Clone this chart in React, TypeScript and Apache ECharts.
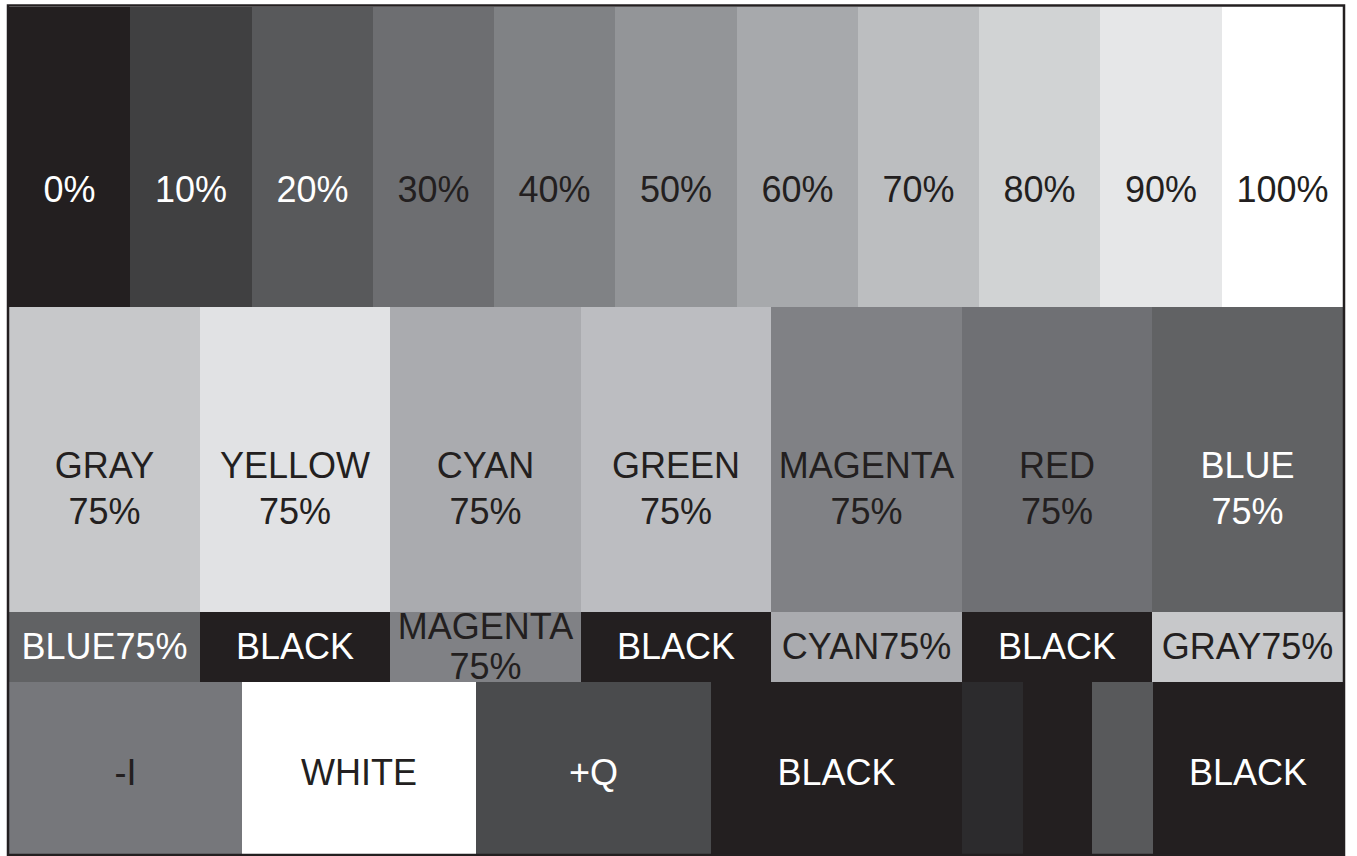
import React, { useEffect, useRef } from "react";
import * as echarts from "echarts";

// Row 1: gray scale
const grayLabels = ["0%", "10%", "20%", "30%", "40%", "50%", "60%", "70%", "80%", "90%", "100%"];
const grayColors = ["#231f20", "#404041", "#58595b", "#6d6e71", "#808285", "#939598", "#a7a9ac", "#bcbec0", "#d1d3d4", "#e6e7e8", "#ffffff"];
const grayTextColors = ["#ffffff", "#ffffff", "#ffffff", "#231f20", "#231f20", "#231f20", "#231f20", "#231f20", "#231f20", "#231f20", "#231f20"];
const grayWeights = [1, 1, 1, 1, 1, 1, 1, 1, 1, 1, 1];

// Row 2: 75% bars
const barLabels = ["GRAY\n75%", "YELLOW\n75%", "CYAN\n75%", "GREEN\n75%", "MAGENTA\n75%", "RED\n75%", "BLUE\n75%"];
const barColors = ["#c7c8ca", "#e1e2e4", "#aaabaf", "#bcbdc1", "#808185", "#6f7074", "#616264"];
const barTextColors = ["#231f20", "#231f20", "#231f20", "#231f20", "#231f20", "#231f20", "#ffffff"];
const barWeights = [1, 1, 1, 1, 1, 1, 1];

// Row 3: reverse bars
const castLabels = ["BLUE75%", "BLACK", "MAGENTA\n75%", "BLACK", "CYAN75%", "BLACK", "GRAY75%"];
const castColors = ["#616264", "#231f20", "#808185", "#231f20", "#aaabaf", "#231f20", "#c7c8ca"];
const castTextColors = ["#ffffff", "#ffffff", "#231f20", "#ffffff", "#231f20", "#ffffff", "#231f20"];
const castWeights = [1, 1, 1, 1, 1, 1, 1];

// Row 4: -I / WHITE / +Q / PLUGE
const plugeLabels = ["-I", "WHITE", "+Q", "BLACK", "", "", "", "BLACK"];
const plugeColors = ["#76777b", "#ffffff", "#4a4b4d", "#231f20", "#2c2b2d", "#231f20", "#58595b", "#231f20"];
const plugeTextColors = ["#231f20", "#231f20", "#ffffff", "#ffffff", "#ffffff", "#ffffff", "#ffffff", "#ffffff"];
const plugeWeights = [233, 234, 235, 251, 61, 69, 61, 190];

const rowHeights = [300, 305, 70, 172.5];
const totalWidth = 1334;

type Cell = { x0: number; x1: number; y0: number; y1: number; row: number; label: string; color: string; textColor: string };

function buildCells(): Cell[] {
  const rows = [
    { labels: grayLabels, colors: grayColors, textColors: grayTextColors, weights: grayWeights },
    { labels: barLabels, colors: barColors, textColors: barTextColors, weights: barWeights },
    { labels: castLabels, colors: castColors, textColors: castTextColors, weights: castWeights },
    { labels: plugeLabels, colors: plugeColors, textColors: plugeTextColors, weights: plugeWeights },
  ];
  const cells: Cell[] = [];
  let y = 0;
  rows.forEach((r, ri) => {
    const sum = r.weights.reduce((a, b) => a + b, 0);
    let x = 0;
    r.weights.forEach((w, i) => {
      const x1 = x + (w / sum) * totalWidth;
      cells.push({ x0: x, x1, y0: y, y1: y + rowHeights[ri], row: ri, label: r.labels[i], color: r.colors[i], textColor: r.textColors[i] });
      x = x1;
    });
    y += rowHeights[ri];
  });
  return cells;
}

const FONT = '"Liberation Sans", Arial, Helvetica, sans-serif';
const rowTextOffset = [32.5, 28.5, -1, 4];
const rowLineHeight = [40, 46, 40, 40];

export default function App() {
  const ref = useRef<HTMLDivElement>(null);
  useEffect(() => {
    if (!ref.current) return;
    const chart = echarts.init(ref.current, undefined, { renderer: "svg" });
    const cells = buildCells();
    const labelled = cells.filter((c) => c.label);
    const totalHeight = rowHeights.reduce((a, b) => a + b, 0);
    const rectOf = (api: any, c: Cell) => {
      const p0 = api.coord([c.x0, c.y0]);
      const p1 = api.coord([c.x1, c.y1]);
      return { x0: Math.round(p0[0]), x1: Math.round(p1[0]), y0: Math.round(p0[1]), y1: Math.round(p1[1]) };
    };
    chart.setOption({
      animation: false,
      backgroundColor: "#ffffff",
      grid: { left: 9, right: 14, top: 7, bottom: 1.5 },
      xAxis: { type: "value", min: 0, max: totalWidth, show: false },
      yAxis: { type: "value", min: 0, max: totalHeight, inverse: true, show: false },
      series: [
        {
          type: "custom",
          z: 2,
          data: cells.map((c) => [c.x0, c.x1, c.y0, c.y1]),
          renderItem: (params: any, api: any) => {
            const c = cells[params.dataIndex];
            const r = rectOf(api, c);
            return { type: "rect", shape: { x: r.x0, y: r.y0, width: r.x1 - r.x0, height: r.y1 - r.y0 }, style: { fill: c.color } };
          },
        },
        {
          type: "custom",
          z: 3,
          data: labelled.map((c) => [c.x0, c.x1, c.y0, c.y1]),
          renderItem: (params: any, api: any) => {
            const c = labelled[params.dataIndex];
            const r = rectOf(api, c);
            return {
              type: "text",
              style: {
                text: c.label,
                x: (r.x0 + r.x1) / 2,
                y: (r.y0 + r.y1) / 2 + rowTextOffset[c.row],
                fill: c.textColor,
                fontSize: 36,
                fontFamily: FONT,
                align: "center",
                verticalAlign: "middle",
                lineHeight: rowLineHeight[c.row],
              },
            };
          },
        },
      ],
      graphic: [
        {
          type: "rect",
          z: 100,
          shape: { x: 8, y: 5.5, width: 1336, height: 849.5 },
          style: { fill: "none", stroke: "#231f20", lineWidth: 2.5 },
        },
      ],
    });
    return () => chart.dispose();
  }, []);
  return <div ref={ref} style={{ position: "fixed", left: 0, top: 0, width: 1357, height: 856 }} />;
}
